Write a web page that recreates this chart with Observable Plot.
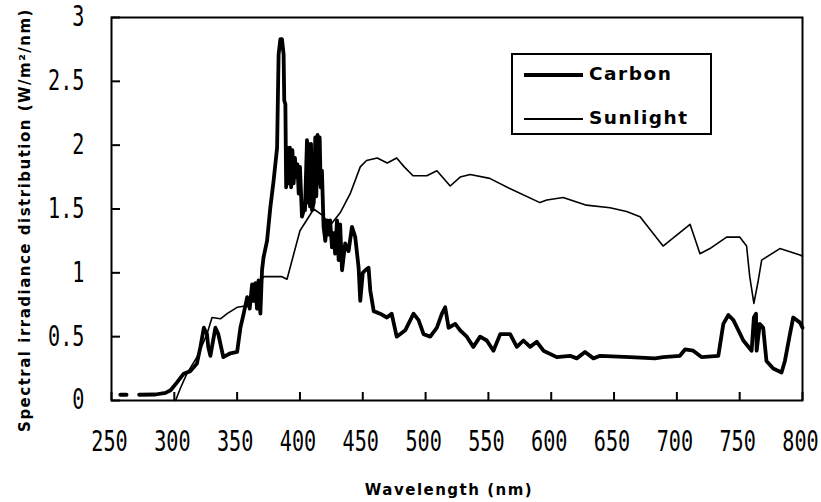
<!DOCTYPE html>
<html><head><meta charset="utf-8">
<script src="https://cdn.jsdelivr.net/npm/d3@7"></script>
<script src="https://cdn.jsdelivr.net/npm/@observablehq/plot@0.6"></script>
<style>
body{margin:0;background:#fff;}
#wrap{position:relative;width:821px;height:502px;overflow:hidden;}
#legend{position:absolute;left:511px;top:53px;width:197px;height:78px;border:2px solid #000;background:#fff;}
.lg-line{position:absolute;left:11px;width:59px;background:#000;}
.lg-text{position:absolute;left:76px;font-family:"DejaVu Sans",sans-serif;font-weight:bold;font-size:18.5px;letter-spacing:1.5px;line-height:22px;color:#000;}
</style></head><body><div id="wrap"></div>
<script>
const xTicks = [250, 300, 350, 400, 450, 500, 550, 600, 650, 700, 750, 800];
const yTicks = [0, 0.5, 1, 1.5, 2, 2.5, 3];
const yTickLabels = ["0", "0.5", "1", "1.5", "2", "2.5", "3"];
const seriesNames = ["Carbon", "Sunlight"];
const xTitle = "Wavelength (nm)";
const yTitle = "Spectral irradiance distribution (W/m²/nm)";

const carbonWl = [257, 262, 266, 272, 285, 293, 297, 302, 307.5, 312.8, 318, 320.8, 323.5, 326, 327, 328.7, 332.7, 335, 339, 344.6, 350, 352.6, 355.2, 358, 360, 361.9, 363, 364.5, 365.8, 367, 368.5, 369.8, 371, 373.8, 376.4, 379, 381.8, 383, 384.4, 385.7, 387, 387.5, 388.4, 389, 390, 391, 392, 393, 394, 395, 396, 397, 398, 399, 400, 401.6, 403, 404, 405.6, 406.3, 407, 408, 408.8, 409.6, 411, 412.2, 413, 414, 414.9, 415.7, 416.5, 417.5, 418.8, 420.2, 421.5, 422.8, 424, 425.5, 426.8, 428, 429.5, 430.8, 432, 433.5, 436, 438.7, 441.4, 444, 446.7, 448, 450, 452, 454.6, 456, 458.7, 463.8, 469.2, 473, 477, 483.8, 490.4, 494.4, 498.4, 503.7, 509, 513, 515.6, 518.3, 523.6, 527.5, 532.8, 538, 543.4, 548.7, 554, 559.4, 567.3, 572.6, 577.9, 583.2, 588.5, 593.8, 604.4, 615, 620.3, 626.9, 633.6, 638.9, 662.7, 682.6, 689, 702.4, 706.5, 713, 719.6, 733, 737, 741, 745, 752.9, 759.5, 761.3, 763, 763.5, 766, 768.7, 771.3, 776.7, 783.3, 786, 790, 792.6, 798, 800];
const carbonVal = [0.045, 0.045, NaN, 0.045, 0.047, 0.06, 0.08, 0.14, 0.21, 0.23, 0.29, 0.42, 0.57, 0.52, 0.42, 0.35, 0.57, 0.52, 0.34, 0.37, 0.38, 0.57, 0.68, 0.81, 0.72, 0.91, 0.78, 0.92, 0.72, 0.94, 0.68, 1.02, 1.12, 1.25, 1.51, 1.72, 1.98, 2.71, 2.83, 2.83, 2.71, 2.35, 2.32, 1.67, 1.98, 1.70, 1.98, 1.67, 1.96, 1.70, 1.90, 1.75, 1.85, 1.62, 1.83, 1.44, 1.49, 1.49, 2.04, 1.55, 2.01, 1.52, 2.01, 1.49, 1.55, 2.06, 1.60, 2.08, 1.70, 2.06, 1.67, 1.80, 1.36, 1.25, 1.41, 1.30, 1.41, 1.20, 1.31, 1.15, 1.41, 1.10, 1.38, 1.02, 1.23, 1.17, 1.36, 1.28, 1.04, 0.78, 1.00, 1.02, 1.04, 0.86, 0.70, 0.68, 0.65, 0.68, 0.50, 0.55, 0.68, 0.63, 0.52, 0.50, 0.57, 0.68, 0.73, 0.57, 0.60, 0.55, 0.50, 0.42, 0.50, 0.47, 0.39, 0.52, 0.52, 0.42, 0.47, 0.42, 0.46, 0.39, 0.34, 0.35, 0.33, 0.38, 0.33, 0.35, 0.34, 0.33, 0.34, 0.35, 0.40, 0.39, 0.34, 0.35, 0.60, 0.67, 0.63, 0.47, 0.39, 0.65, 0.68, 0.39, 0.60, 0.57, 0.31, 0.25, 0.22, 0.31, 0.52, 0.65, 0.61, 0.57];

const sunWl = [301, 305, 310, 318, 326, 330, 336.7, 342, 350, 356.6, 362, 371, 385.7, 389.7, 400, 411, 418, 424, 432, 440, 448, 453, 461.5, 469.5, 477, 483, 490, 501, 509, 519.6, 527.5, 535.5, 551, 567, 591, 596.5, 609.5, 628, 646.8, 660, 670.7, 689, 710.5, 718.4, 726.3, 739.6, 750, 755.5, 758, 761.3, 764.8, 767.5, 782, 798, 800];
const sunVal = [0, 0.10, 0.21, 0.34, 0.52, 0.65, 0.64, 0.68, 0.73, 0.74, 0.81, 0.97, 0.97, 0.95, 1.33, 1.50, 1.45, 1.37, 1.47, 1.62, 1.83, 1.88, 1.90, 1.86, 1.90, 1.83, 1.76, 1.76, 1.80, 1.68, 1.75, 1.77, 1.74, 1.66, 1.55, 1.57, 1.59, 1.53, 1.51, 1.48, 1.44, 1.21, 1.38, 1.15, 1.19, 1.28, 1.28, 1.21, 0.97, 0.76, 0.94, 1.10, 1.19, 1.14, 1.13];

const carbon = carbonWl.map((w, i) => ({w, v: carbonVal[i]}));
const sunlight = sunWl.map((w, i) => ({w, v: sunVal[i]}));

const titleFont = "DejaVu Sans, sans-serif";
const tickFont = "DejaVu Sans Mono, monospace";

const plot = Plot.plot({
  width: 821, height: 502,
  marginLeft: 111, marginRight: 19, marginTop: 17, marginBottom: 102,
  x: {domain: [250, 800], axis: null},
  y: {domain: [0, 3], axis: null},
  style: {background: "#fff", color: "#000"},
  marks: [
    Plot.line(sunlight, {x: "w", y: "v", stroke: "#000", strokeWidth: 1.6}),
    Plot.line(carbon, {x: "w", y: "v", stroke: "#000", strokeWidth: 3.8, strokeLinejoin: "round"}),
    Plot.tickX(xTicks, {x: d => d, insetTop: 375, stroke: "#000", strokeWidth: 2}),
    Plot.tickY(yTicks, {y: d => d, insetRight: 682, stroke: "#000", strokeWidth: 2}),
    Plot.frame({stroke: "#000", strokeWidth: 2}),
    Plot.text(xTicks, {x: d => d, frameAnchor: "bottom", dy: 42, dx: -2, text: d => String(d), lineAnchor: "middle",
      fontFamily: tickFont, fontSize: 28, fill: "#000"}),
    Plot.text(yTicks, {y: d => d, frameAnchor: "left", dx: -27, textAnchor: "end", lineAnchor: "middle",
      text: (d, i) => yTickLabels[i], fontFamily: tickFont, fontSize: 28, fill: "#000"}),
    Plot.text([xTitle], {frameAnchor: "bottom", dy: 90, dx: -8, text: d => d, lineAnchor: "middle", textAnchor: "middle",
      fontFamily: titleFont, fontWeight: "bold", fontSize: 15, fill: "#000"}),
    Plot.text([yTitle], {frameAnchor: "left", rotate: -90, dx: -86, dy: 11, text: d => d, lineAnchor: "middle", textAnchor: "middle",
      fontFamily: titleFont, fontWeight: "bold", fontSize: 15, fill: "#000"})
  ]
});

plot.querySelectorAll("text").forEach(t => {
  let el = t, ff = null;
  while (el && el !== plot.parentNode) {
    if (el.getAttribute && el.getAttribute("font-family")) { ff = el.getAttribute("font-family"); break; }
    el = el.parentNode;
  }
  if (ff === tickFont) {
    const tr = t.getAttribute("transform");
    if (tr) t.setAttribute("transform", tr + " scale(0.72,1)");
    else {
      const x = +t.getAttribute("x") || 0, y = +t.getAttribute("y") || 0;
      t.removeAttribute("x"); t.removeAttribute("y");
      t.setAttribute("transform", `translate(${x},${y}) scale(0.72,1)`);
    }
  } else if (ff === titleFont) {
    t.style.letterSpacing = "1.5px";
  }
});

const wrap = document.getElementById("wrap");
wrap.appendChild(plot);

const legend = document.createElement("div");
legend.id = "legend";
const widths = [4, 1.6];
const tops = [20, 64];
seriesNames.forEach((name, i) => {
  const ln = document.createElement("div");
  ln.className = "lg-line";
  ln.style.top = (tops[i] - widths[i] / 2) + "px";
  ln.style.height = widths[i] + "px";
  legend.appendChild(ln);
  const tx = document.createElement("div");
  tx.className = "lg-text";
  tx.style.top = (tops[i] - 12) + "px";
  tx.textContent = name;
  legend.appendChild(tx);
});
wrap.appendChild(legend);
</script>
</body></html>
